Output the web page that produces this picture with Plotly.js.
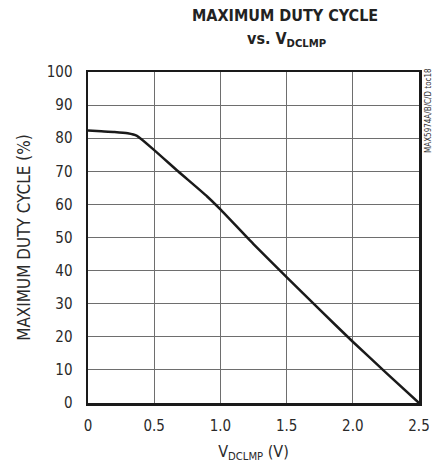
<!DOCTYPE html>
<html>
<head>
<meta charset="utf-8">
<script src="https://cdn.plot.ly/plotly-3.0.1.min.js"></script>
<style>html,body{margin:0;padding:0;background:#fff;}#chart{width:438px;height:463px;}</style>
</head>
<body>
<div id="chart"></div>
<script>
// Data
var vdclmp = [0, 0.1, 0.2, 0.3, 0.37, 0.5, 0.68, 0.9, 1.0, 1.25, 1.5, 1.75, 2.0, 2.25, 2.5];
var dutyCycle = [82.3, 82.1, 81.9, 81.5, 80.7, 76.4, 70.0, 62.4, 58.5, 48.0, 38.0, 28.2, 18.5, 9.2, 0];
var xTicks = [0, 0.5, 1.0, 1.5, 2.0, 2.5];
var xTickText = ['0', '0.5', '1.0', '1.5', '2.0', '2.5'];
var yTicks = [0, 10, 20, 30, 40, 50, 60, 70, 80, 90, 100];

var FONT = '"DejaVu Sans Condensed", "Liberation Sans", sans-serif';

var trace = {
  x: vdclmp, y: dutyCycle, type: 'scatter', mode: 'lines',
  line: {color: '#1a1a1a', width: 2.5, shape: 'spline', smoothing: 0.5}, hoverinfo: 'skip'
};

var layout = {
  width: 438, height: 463,
  margin: {l: 88, r: 19, t: 72, b: 60},
  paper_bgcolor: '#ffffff', plot_bgcolor: '#ffffff',
  showlegend: false,
  font: {family: FONT, color: '#222', size: 14},
  xaxis: {
    range: [0, 2.5], tickvals: xTicks, ticktext: xTickText,
    showgrid: true, gridcolor: '#6e6e6e', gridwidth: 1,
    showline: true, linecolor: '#1a1a1a', linewidth: 2.5, mirror: true,
    ticks: '', zeroline: false, ticklabelstandoff: 7,
    tickfont: {family: FONT, size: 15, color: '#2a2a2a'},
    title: {text: 'V<sub>DCLMP</sub> (V)', font: {family: FONT, size: 16, color: '#2a2a2a'}, standoff: 14}
  },
  yaxis: {
    range: [0, 100], tickvals: yTicks,
    showgrid: true, gridcolor: '#6e6e6e', gridwidth: 1,
    showline: true, linecolor: '#1a1a1a', linewidth: 2.5, mirror: true,
    ticks: '', zeroline: false, ticklabelstandoff: 10,
    tickfont: {family: FONT, size: 15, color: '#2a2a2a'},
    title: {text: 'MAXIMUM DUTY CYCLE (%)', font: {family: FONT, size: 17, color: '#2a2a2a'}, standoff: 12}
  },
  annotations: [
    {text: '<b>MAXIMUM DUTY CYCLE</b>', xref: 'paper', yref: 'paper', x: 0.5, y: 1.0,
     showarrow: false, xanchor: 'center', yanchor: 'middle',
     font: {family: FONT, size: 16, color: '#222'}},
    {text: '<b>vs. V<sub>DCLMP</sub></b>', showarrow: false, xanchor: 'center', yanchor: 'middle',
     xref: 'paper', yref: 'paper', x: 0.6, y: 1.0, font: {family: FONT, size: 16, color: '#222'}},
    {text: 'MAX5974A/B/C/D toc18', showarrow: false, textangle: -90, xanchor: 'center', yanchor: 'middle',
     xref: 'paper', yref: 'paper', x: 1.0, y: 0.88, font: {family: FONT, size: 8, color: '#333'}}
  ]
};

// position annotations in pixels relative to the plot area
var plotW = 438 - 88 - 19, plotH = 463 - 72 - 60;
function px(x) { return (x - 88) / plotW; }
function py(y) { return (463 - 60 - y) / plotH; }
layout.annotations[0].x = px(285); layout.annotations[0].y = py(15);
layout.annotations[1].x = px(286); layout.annotations[1].y = py(39);
layout.annotations[2].x = px(428); layout.annotations[2].y = py(111);

Plotly.newPlot('chart', [trace], layout, {staticPlot: true, displayModeBar: false});
</script>
</body>
</html>
